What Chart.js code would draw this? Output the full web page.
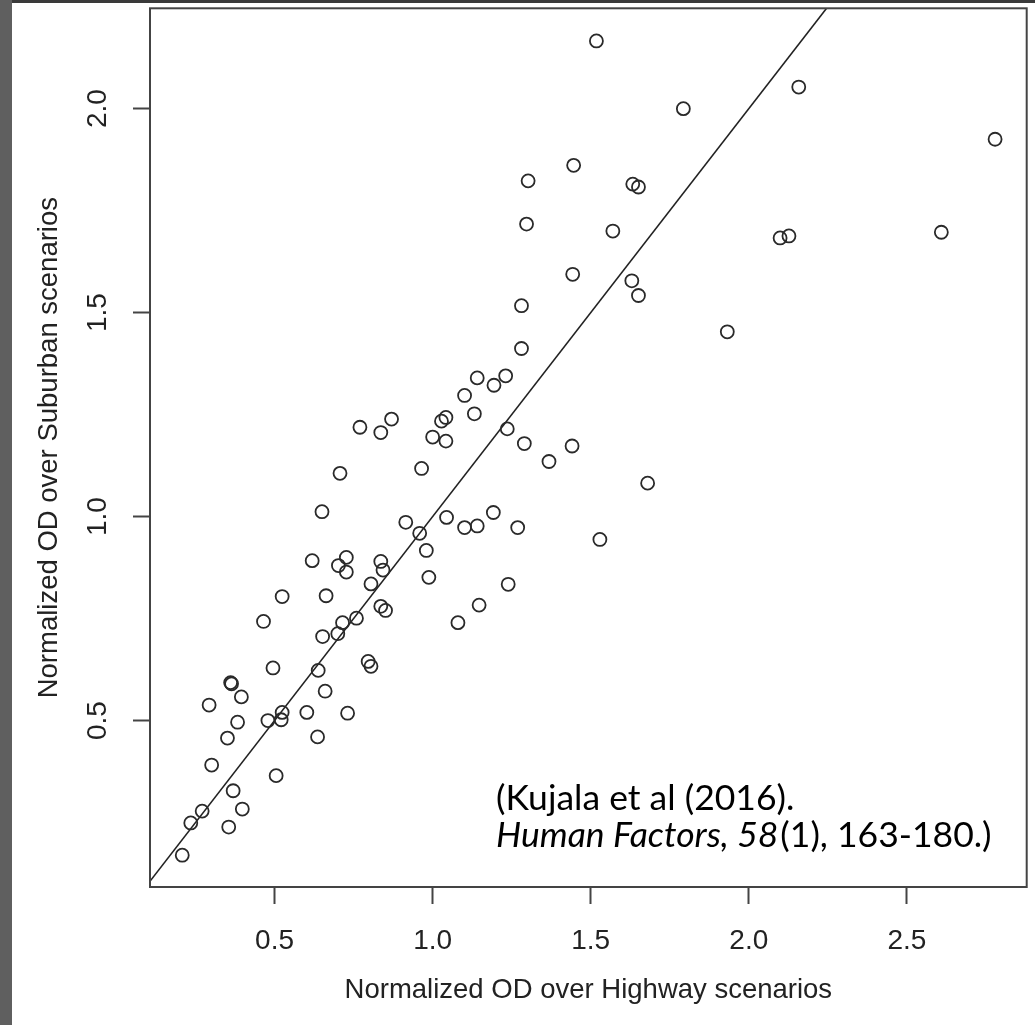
<!DOCTYPE html>
<html>
<head>
<meta charset="utf-8">
<script src="https://cdn.jsdelivr.net/npm/chart.js@4.4.0/dist/chart.umd.min.js"></script>
<style>
  html, body { margin: 0; padding: 0; background: #5f5f5f; }
  canvas { display: block; }
</style>
</head>
<body>
<canvas id="grafica" width="1035" height="1025"></canvas>
<script>
// valores
const highway = [1.518, 1.793, 2.158, 2.779, 1.446, 1.302, 1.633, 1.651, 1.297, 1.570,
  2.099, 2.127, 2.609, 1.443, 1.630, 1.651, 1.281, 1.932, 1.281, 1.141,
  1.231, 1.194, 1.101, 1.132, 1.028, 1.042, 1.000, 1.042, 0.870, 0.770,
  0.836, 1.236, 1.290, 1.441, 1.368, 0.965, 0.707, 1.680, 0.915, 0.959,
  1.044, 1.101, 1.141, 1.192, 1.269, 1.529, 0.650, 0.980, 0.988, 1.239,
  1.147, 1.080, 0.619, 0.702, 0.727, 0.727, 0.836, 0.843, 0.805, 0.524,
  0.663, 0.836, 0.851, 0.759, 0.715, 0.465, 0.652, 0.700, 0.796, 0.805,
  0.495, 0.638, 0.361, 0.364, 0.395, 0.293, 0.660, 0.524, 0.521, 0.479,
  0.602, 0.731, 0.383, 0.351, 0.636, 0.301, 0.505, 0.369, 0.398, 0.271,
  0.235, 0.355, 0.208];
const suburban = [2.166, 2.000, 2.053, 1.925, 1.861, 1.823, 1.815, 1.808, 1.717, 1.700,
  1.683, 1.688, 1.697, 1.594, 1.578, 1.542, 1.517, 1.453, 1.412, 1.340,
  1.345, 1.322, 1.297, 1.252, 1.234, 1.243, 1.195, 1.185, 1.239, 1.219,
  1.206, 1.215, 1.179, 1.173, 1.135, 1.118, 1.106, 1.082, 0.986, 0.959,
  0.998, 0.973, 0.977, 1.010, 0.973, 0.944, 1.012, 0.917, 0.851, 0.834,
  0.783, 0.740, 0.892, 0.880, 0.900, 0.864, 0.890, 0.869, 0.835, 0.804,
  0.806, 0.780, 0.770, 0.751, 0.740, 0.743, 0.706, 0.713, 0.645, 0.633,
  0.629, 0.623, 0.593, 0.590, 0.558, 0.538, 0.572, 0.520, 0.502, 0.500,
  0.520, 0.518, 0.496, 0.457, 0.460, 0.391, 0.365, 0.328, 0.283, 0.278,
  0.249, 0.239, 0.170];
// linea y = x
const lineaX = [0, 3];
const lineaY = [0, 3];
const xTicks = [0.5, 1.0, 1.5, 2.0, 2.5];
const yTicks = [0.5, 1.0, 1.5, 2.0];
const xTitulo = "Normalized OD over Highway scenarios";
const yTitulo = "Normalized OD over Suburban scenarios";
const cita1 = "(Kujala et al (2016).";
const citaItalica = "Human Factors, 58";
const citaResto = "(1), 163-180.)";

const fuenteTicks = { family: "'Liberation Sans', Arial, sans-serif", size: 28 };
const fuenteTitulo = { family: "'Liberation Sans', Arial, sans-serif", size: 27.5 };
const tinta = "#222222";
const fuenteCita = "35.5px Lato, 'Open Sans', sans-serif";

const puntos = highway.map((x, i) => ({ x, y: suburban[i] }));
const linea = lineaX.map((x, i) => ({ x, y: lineaY[i] }));

// fondo gris y hoja blanca, caja del grafico y cita
const fondo = {
  id: "fondo",
  beforeDraw(chart) {
    const ctx = chart.ctx;
    ctx.save();
    ctx.fillStyle = "#5f5f5f";
    ctx.fillRect(0, 0, chart.width, chart.height);
    ctx.fillStyle = "#3a3a3a";
    ctx.fillRect(12, 0, chart.width - 12, 3);
    ctx.fillStyle = "#ffffff";
    ctx.fillRect(12, 3, chart.width - 12, chart.height - 3);
    ctx.restore();
  },
  afterDraw(chart) {
    const ctx = chart.ctx;
    const a = chart.chartArea;
    ctx.save();
    ctx.strokeStyle = "#444444";
    ctx.lineWidth = 2;
    ctx.strokeRect(a.left, a.top, a.right - a.left, a.bottom - a.top);
    ctx.fillStyle = "#000000";
    ctx.textBaseline = "alphabetic";
    ctx.font = fuenteCita;
    ctx.fillText(cita1, 496, 810);
    ctx.font = "italic " + fuenteCita;
    ctx.fillText(citaItalica, 496, 847);
    const w = ctx.measureText(citaItalica).width;
    ctx.font = fuenteCita;
    ctx.fillText(citaResto, 496 + w + 2, 847);
    ctx.restore();
  }
};

const ejeComun = {
  type: "linear",
  grid: {
    drawOnChartArea: false,
    drawTicks: true,
    tickLength: 17,
    tickColor: "#444444",
    tickWidth: 2
  },
  border: { display: false }
};

// sin margenes extra para las etiquetas extremas
const sinPadding = (s) => {
  s.paddingTop = 0;
  s.paddingBottom = 0;
  s.paddingLeft = 0;
  s.paddingRight = 0;
};

const config = {
  type: "scatter",
  data: {
    datasets: [
      {
        data: puntos,
        pointStyle: "circle",
        pointRadius: 6.5,
        pointHoverRadius: 6.5,
        pointBorderWidth: 1.8,
        borderColor: "#2a2a2a",
        backgroundColor: "rgba(0,0,0,0)"
      },
      {
        type: "line",
        data: linea,
        showLine: true,
        pointRadius: 0,
        borderColor: "#222222",
        borderWidth: 1.6,
        fill: false
      }
    ]
  },
  options: {
    responsive: false,
    animation: false,
    events: [],
    layout: { padding: { top: 8, right: 4, left: 0, bottom: 0 } },
    plugins: {
      legend: { display: false },
      tooltip: { enabled: false }
    },
    scales: {
      x: {
        ...ejeComun,
        position: "bottom",
        min: 0.106,
        max: 2.879,
        afterBuildTicks: (s) => { s.ticks = xTicks.map((v) => ({ value: v })); },
        afterFit: (s) => { s.height = 138; sinPadding(s); },
        ticks: {
          color: tinta,
          font: fuenteTicks,
          padding: 20,
          maxRotation: 0,
          callback: (v) => Number(v).toFixed(1)
        },
        title: {
          display: true,
          text: xTitulo,
          color: tinta,
          font: fuenteTitulo,
          padding: { top: 0, bottom: 18 }
        }
      },
      y: {
        ...ejeComun,
        position: "left",
        min: 0.092,
        max: 2.246,
        afterBuildTicks: (s) => { s.ticks = yTicks.map((v) => ({ value: v })); },
        afterFit: (s) => { s.width = 150; sinPadding(s); },
        ticks: {
          color: tinta,
          font: fuenteTicks,
          padding: 15,
          minRotation: 90,
          maxRotation: 90,
          crossAlign: "center",
          callback: (v) => Number(v).toFixed(1)
        },
        title: {
          display: true,
          text: yTitulo,
          color: tinta,
          font: fuenteTitulo,
          padding: { top: 33, bottom: 0 }
        }
      }
    }
  },
  plugins: [fondo]
};

const miChart = document.querySelector("#grafica");
const myChart = new Chart(miChart, config);
</script>
</body>
</html>
